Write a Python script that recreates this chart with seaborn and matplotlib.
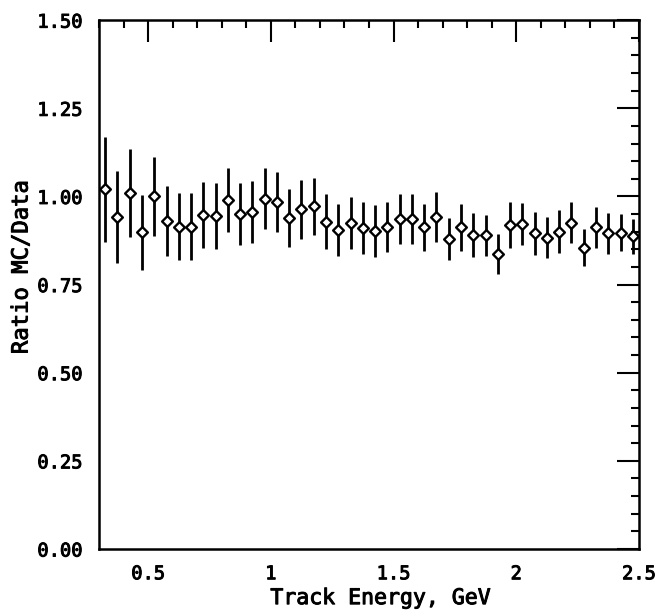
import numpy as np
import pandas as pd
import matplotlib
matplotlib.use("Agg")
import matplotlib.pyplot as plt
import matplotlib.patheffects as pe
import seaborn as sns
from matplotlib.ticker import MultipleLocator, FixedLocator

energy = [0.325 + 0.05 * i for i in range(44)]
ratio = [1.020, 0.942, 1.010, 0.898, 1.001, 0.931, 0.914, 0.914, 0.947, 0.945,
         0.990, 0.950, 0.956, 0.994, 0.983, 0.938, 0.963, 0.972, 0.928, 0.904,
         0.925, 0.911, 0.902, 0.914, 0.936, 0.936, 0.912, 0.942, 0.880, 0.912,
         0.890, 0.890, 0.836, 0.919, 0.921, 0.895, 0.883, 0.900, 0.926, 0.855,
         0.912, 0.895, 0.897, 0.887]
err = [0.150, 0.130, 0.125, 0.107, 0.112, 0.100, 0.095, 0.095, 0.093, 0.093,
       0.091, 0.087, 0.089, 0.086, 0.085, 0.082, 0.083, 0.080, 0.078, 0.074,
       0.074, 0.073, 0.073, 0.071, 0.072, 0.070, 0.067, 0.070, 0.060, 0.067,
       0.063, 0.058, 0.057, 0.064, 0.060, 0.061, 0.059, 0.061, 0.059, 0.053,
       0.057, 0.058, 0.052, 0.050]
xticks = [0.5, 1, 1.5, 2, 2.5]
xticklabels = ["0.5", "1", "1.5", "2", "2.5"]
yticks = [0.0, 0.25, 0.5, 0.75, 1.0, 1.25, 1.5]
yticklabels = ["0.00", "0.25", "0.50", "0.75", "1.00", "1.25", "1.50"]

df = pd.DataFrame({"energy": energy, "ratio": ratio, "err": err})

sns.set_theme(style="white")
plt.rcParams["font.family"] = ["DejaVu Sans Mono", "DejaVu Sans"]

fig = plt.figure(figsize=(6.58, 6.11), dpi=100)
ax = fig.add_axes([0.1505, 0.1015, 0.8205, 0.8655])

ax.errorbar(df["energy"], df["ratio"], yerr=df["err"], fmt="none",
            ecolor="black", elinewidth=2.0, capsize=0, zorder=2)
sns.scatterplot(data=df, x="energy", y="ratio", marker="D", s=30,
                facecolor="white", edgecolor="black", linewidth=1.7,
                ax=ax, zorder=3)

ax.set_xlim(0.3, 2.5)
ax.set_ylim(0.0, 1.5)
ax.xaxis.set_major_locator(FixedLocator(xticks))
ax.set_xticklabels(xticklabels)
ax.xaxis.set_minor_locator(MultipleLocator(0.1))
ax.yaxis.set_major_locator(FixedLocator(yticks))
ax.set_yticklabels(yticklabels)
ax.yaxis.set_minor_locator(MultipleLocator(0.05))

ax.tick_params(which="both", direction="in", top=True, right=True,
               color="black", labelcolor="black")
ax.tick_params(which="major", length=16, width=1.5)
ax.tick_params(which="minor", length=6, width=1.5)
ax.tick_params(axis="x", which="major", pad=11)
ax.tick_params(axis="y", which="major", pad=12)
thick = [pe.withStroke(linewidth=0.7, foreground="black")]
for lab in ax.get_xticklabels() + ax.get_yticklabels():
    lab.set_fontsize(13.5)
    lab.set_path_effects(thick)

for sp in ax.spines.values():
    sp.set_color("black")
    sp.set_linewidth(1.8)

ax.set_xlabel("Track Energy, GeV", fontsize=15.5, color="black",
              path_effects=thick)
ax.set_ylabel("Ratio MC/Data", fontsize=16, color="black",
              path_effects=thick)
ax.xaxis.set_label_coords(0.522, -0.074)
ax.yaxis.set_label_coords(-0.125, 0.533)
ax.grid(False)

fig.savefig("out.png", dpi=100)
